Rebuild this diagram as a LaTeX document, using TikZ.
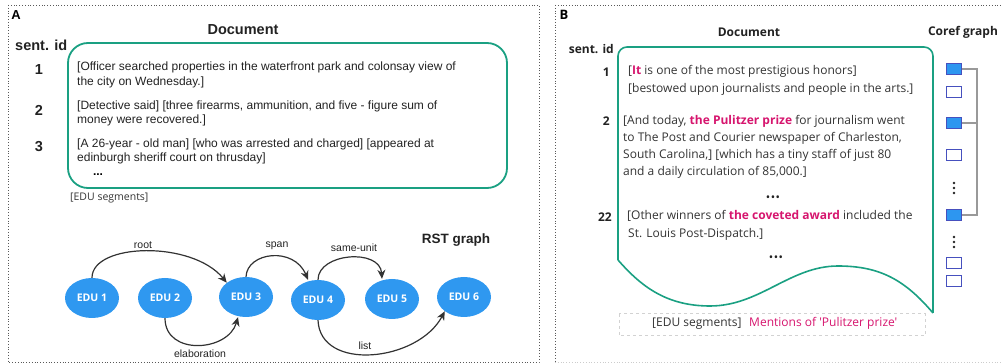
\documentclass[tikz,border=0pt]{standalone}
\usepackage{fontspec}
\setmainfont{Liberation Sans}
\newfontfamily\opensans{Open Sans}
\usetikzlibrary{arrows.meta,shapes.geometric}

\definecolor{docteal}{RGB}{26,160,130}
\definecolor{edublue}{RGB}{47,152,240}
\definecolor{mentionpink}{RGB}{214,21,110}
\definecolor{sqfill}{RGB}{45,150,240}
\definecolor{sqline}{RGB}{70,80,190}
\definecolor{inkdark}{RGB}{34,34,34}
\definecolor{inkgray}{RGB}{51,51,51}
\definecolor{arrowink}{RGB}{50,50,50}

\begin{document}
\begin{tikzpicture}[x=1pt,y=-1pt,
  panel/.style={draw=gray!70!black, dotted, line width=0.8pt},
  docbox/.style={draw=docteal, line width=1.8pt},
  ltxt/.style={anchor=west, inner sep=0pt, text=inkdark,
    font=\fontsize{12}{14}\selectfont, text height=8.5pt, text depth=2.5pt},
  rtxt/.style={anchor=west, inner sep=0pt, text=inkgray,
    font=\opensans\fontsize{12}{14}\selectfont, text height=8.5pt, text depth=2.5pt},
  lhead/.style={inner sep=0pt, text=inkdark, font=\bfseries\fontsize{14.5}{16}\selectfont},
  rhead/.style={inner sep=0pt, text=inkdark, font=\opensans\bfseries\fontsize{12}{14}\selectfont},
  edu/.style={ellipse, fill=edublue, minimum width=54pt, minimum height=40pt, inner sep=0pt,
    text=white, font=\opensans\bfseries\fontsize{10.5}{12}\selectfont},
  rel/.style={draw=arrowink, line width=1.2pt, -{Stealth[length=9pt,width=8pt]}},
  rlabel/.style={inner sep=0pt, text=inkdark, font=\fontsize{10.5}{12}\selectfont},
  mention/.style={draw=sqline, line width=1.4pt, minimum width=14.5pt, minimum height=10.5pt, inner sep=0pt},
  mfull/.style={mention, fill=sqfill},
  mempty/.style={mention, fill=white},
  bracket/.style={draw=gray!80, line width=1.2pt},
  morenode/.style={inner sep=0pt, text=inkdark, font=\opensans\bfseries\fontsize{9}{10}\selectfont}
]
\useasboundingbox (0,0) rectangle (1002,363);

% ---------- panel frames ----------
\draw[panel] (8,5) rectangle (539,362);
\draw[panel] (555,5) -- (1012,5);
\draw[panel] (555,5) -- (555,362);
\draw[panel, draw=gray!40] (555,362) -- (1002,362);

% ---------- panel A ----------
\node[inner sep=0pt, font=\bfseries\fontsize{13}{14}\selectfont] (labA) at (16,15) {A};
\node[lhead] (docA) at (243,30) {Document};
\node[lhead, anchor=west] (sidA) at (15,45) {sent. id};

\draw[docbox, rounded corners=20pt] (68,43) rectangle (507,188);

\node[lhead] (nA1) at (39,70) {1};
\node[lhead] (nA2) at (39,110) {2};
\node[lhead] (nA3) at (39,147) {3};

\node[ltxt] (a1a) at (77,68) {[Officer searched properties in the waterfront park and colonsay view of};
\node[ltxt] (a1b) at (77,83) {the city on Wednesday.]};
\node[ltxt] (a2a) at (77,107) {[Detective said] [three firearms, ammunition, and five - figure sum of};
\node[ltxt] (a2b) at (77,121) {money were recovered.]};
\node[ltxt] (a3a) at (77,145) {[A 26-year - old man] [who was arrested and charged] [appeared at};
\node[ltxt] (a3b) at (77,159) {edinburgh sheriff court on thrusday]};
\node[inner sep=0pt, font=\bfseries\fontsize{12}{14}\selectfont] (aMore) at (98,175) {...};
\node[anchor=west, inner sep=0pt, text=inkgray, font=\opensans\fontsize{10.5}{12}\selectfont] (segA) at (70,198) {[EDU segments]};

\node[inner sep=0pt, text=inkdark, font=\bfseries\fontsize{13.5}{15}\selectfont] (rstT) at (456,240) {RST graph};

% RST nodes
\node[edu] (e1) at (92,298) {EDU 1};
\node[edu] (e2) at (165,298) {EDU 2};
\node[edu] (e3) at (246,297) {EDU 3};
\node[edu] (e4) at (318,300) {EDU 4};
\node[edu] (e5) at (392,299) {EDU 5};
\node[edu] (e6) at (464,297) {EDU 6};

% RST relations
\draw[rel] (e1.north) .. controls (92,243) and (192,240) .. (e3.north west);
\draw[rel] (e3.north) .. controls (247,252) and (294,246) .. ([xshift=-10pt]e4.north);
\draw[rel] (e4.north) .. controls (318,253) and (380,248) .. ([xshift=-10pt]e5.north);
\draw[rel] (e2.south) .. controls (165,356) and (228,352) .. ([xshift=-8pt]e3.south);
\draw[rel] (e4.south) .. controls (320,372) and (418,362) .. (e6.south west);

\node[rlabel] (lRoot) at (143,245) {root};
\node[rlabel] (lSpan) at (277,246) {span};
\node[rlabel] (lSame) at (354,248) {same-unit};
\node[rlabel] (lElab) at (200,354) {elaboration};
\node[rlabel] (lList) at (365,346) {list};

% ---------- panel B ----------
\node[inner sep=0pt, font=\opensans\bfseries\fontsize{13}{14}\selectfont] (labB) at (564,15) {B};
\node[rhead] (docB) at (749,32) {Document};
\node[rhead] (corefT) at (963,32) {Coref graph};
\node[rhead, anchor=east] (sidB) at (614,49) {sent. id};

% document sheet with a wavy lower edge
\draw[docbox, line width=1.6pt, rounded corners=9pt]
  (618,260) -- (618,47) -- (933,47) [sharp corners] -- (933,313);
\draw[docbox, line width=1.6pt]
  (933,313) .. controls (905,280) and (880,266) .. (838,266)
  .. controls (790,266) and (760,306) .. (710,306)
  .. controls (665,306) and (640,285) .. (618,260);

\node[rhead, anchor=east] (nB1) at (610,72) {1};
\node[rhead, anchor=east] (nB2) at (610,121) {2};
\node[rhead, anchor=east] (nB22) at (612,217) {22};

\node[rtxt] (b1a) at (628,72) {[\textcolor{mentionpink}{\bfseries It} is one of the most prestigious honors]};
\node[rtxt] (b1b) at (628,90) {[bestowed upon journalists and people in the arts.]};
\node[rtxt] (b2a) at (623,122) {[And today, \textcolor{mentionpink}{\bfseries the Pulitzer prize} for journalism went};
\node[rtxt] (b2b) at (623,139) {to The Post and Courier newspaper of Charleston,};
\node[rtxt] (b2c) at (623,156) {South Carolina,] [which has a tiny staff of just 80};
\node[rtxt] (b2d) at (623,173) {and a daily circulation of 85,000.]};
\node[morenode] (bMore1) at (773,198) {•\,•\,•};
\node[rtxt] (b22a) at (627,217) {[Other winners of \textcolor{mentionpink}{\bfseries the coveted award} included the};
\node[rtxt] (b22b) at (628,235) {St. Louis Post-Dispatch.]};
\node[morenode] (bMore2) at (776,258) {•\,•\,•};

% legend
\draw[draw=gray!35, dashed, line width=1pt] (619,314) rectangle (925,336);
\node[rtxt] (segB) at (652,324) {[EDU segments]};
\node[rtxt, text=mentionpink, anchor=west] (mentB) at (749,324) {Mentions of 'Pulitzer prize'};

% coref mentions
\node[mfull] (c1) at (954,69) {};
\node[mempty] (c2) at (954,92) {};
\node[mfull] (c3) at (954,123) {};
\node[mempty] (c4) at (954,155) {};
\node[mfull] (c5) at (954,215) {};
\node[mempty] (c6) at (954,263) {};
\node[mempty] (c7) at (954,281) {};

% vertical ellipses between mentions
\foreach \yy in {188,242}{
  \foreach \dd in {-5,0,5}
    \fill[inkdark] (954,\yy+\dd) circle (1.4pt);
}

% coreference chain
\draw[bracket] (c1.east) -- ++(15,0) coordinate (bt) |- (c5.east);
\draw[bracket] (c3.east) -- (c3.east -| bt);

\end{tikzpicture}
\end{document}
